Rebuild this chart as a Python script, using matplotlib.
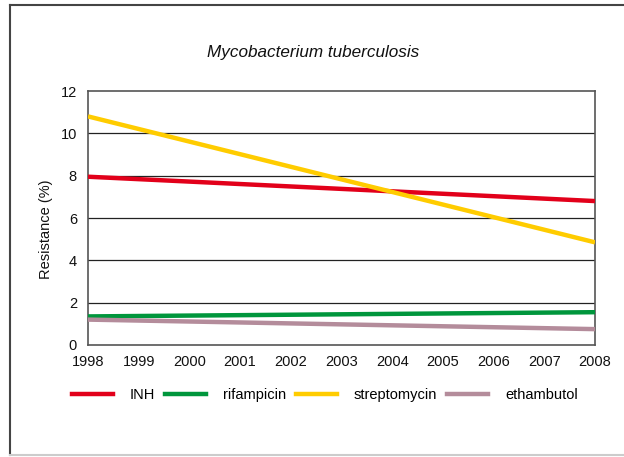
import matplotlib
matplotlib.use("Agg")
import matplotlib.pyplot as plt
from matplotlib.lines import Line2D

years = [1998, 2008]
inh = [7.95, 6.8]
rifampicin = [1.35, 1.55]
streptomycin = [10.8, 4.85]
ethambutol = [1.2, 0.75]
series_names = ["INH", "rifampicin", "streptomycin", "ethambutol"]
colors = ["#e2001a", "#00963c", "#ffcc00", "#b48c9b"]
xticks = list(range(1998, 2009))
yticks = [0, 2, 4, 6, 8, 10, 12]

plt.rcParams['font.family'] = ['Liberation Sans', 'DejaVu Sans']

fig = plt.figure(figsize=(6.24, 4.57), dpi=100)
W, H = 624, 457
ax = fig.add_axes([88 / W, 1 - 345 / H, (595 - 88) / W, (345 - 91) / H])

for vals, name, c in zip([inh, rifampicin, streptomycin, ethambutol], series_names, colors):
    ax.plot(years, vals, color=c, lw=3.2, label=name, solid_capstyle='butt', zorder=3)

ax.set_xlim(1998, 2008)
ax.set_ylim(0, 12)
ax.set_xticks(xticks)
ax.set_yticks(yticks)
ax.tick_params(axis='both', length=0, labelsize=10.5, colors='#111111')
ax.tick_params(axis='x', pad=7)
ax.tick_params(axis='y', pad=8)
for y in yticks[1:-1]:
    ax.axhline(y, color='#222222', lw=0.9, zorder=1)
for s in ax.spines.values():
    s.set_color('#555555')
    s.set_linewidth(1.2)
ax.set_ylabel("Resistance (%)", fontsize=10.5, color='#111111')
ax.yaxis.set_label_coords(-0.069, 0.457)

fig.text(313 / W, 1 - 53 / H, "Mycobacterium tuberculosis", ha='center', va='center',
         fontsize=12.3, style='italic', color='#111111')

handles = [Line2D([0], [0], color=c, lw=3.2) for c in colors]
fig.legend(handles, series_names, loc='center', bbox_to_anchor=(325 / W, 1 - 395 / H),
           ncol=4, frameon=False, fontsize=10.5, handlelength=2.8, handletextpad=1.15,
           columnspacing=0.7)

# figure border
fig.add_artist(Line2D([10 / W, 10 / W], [1 - 5 / H, 1 - 455 / H], transform=fig.transFigure,
                      color='#444444', lw=1.5))
fig.add_artist(Line2D([10 / W, 1.0], [1 - 5 / H, 1 - 5 / H], transform=fig.transFigure,
                      color='#444444', lw=1.5))
fig.add_artist(Line2D([10 / W, 1.0], [1 - 455 / H, 1 - 455 / H], transform=fig.transFigure,
                      color='#cccccc', lw=1.5))

fig.savefig("out.png", dpi=100)
